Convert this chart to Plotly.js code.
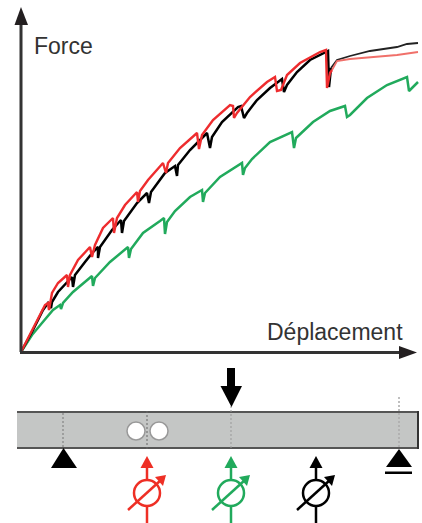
<!DOCTYPE html>
<html><head><meta charset="utf-8">
<script src="https://cdn.plot.ly/plotly-3.0.1.min.js"></script>
<style>html,body{margin:0;padding:0;background:#fff}#c{width:422px;height:523px}</style></head>
<body><div id="c"></div>
<script>
const redX=[0,11,24,27,28,31,37,46,47,49,57,69,71,74,82,92,93,96,104,116,117,119,127,142,145,147,159,176,178,181,192,209,212,213,216,229,246,254,256,260,266,279,299,305,306,309,311];
const redF=[0,22,47,49,42,59,69,77,65,77,92,105,95,107,124,134,119,134,147,160,150,161,172,189,179,189,204,219,203,217,232,247,246,234,239,255,270,275,261,262,277,289,300,302,264,279,282];
const redTailX=[311,316,329,349,376,397];
const redTailF=[282,291,293,295,297,300];
const blackX=[0,12,22,27,30,31,37,51,52,54,64,72,77,77,79,91,100,101,103,116,126,128,130,139,144,154,156,157,169,186,189,191,201,217,220,223,226,236,249,261,263,266,276,289,307,308,310];
const blackF=[0,22,42,49,44,50,60,75,65,77,90,100,105,94,105,122,132,119,131,149,159,149,160,172,179,186,176,187,202,219,204,215,230,245,246,234,239,252,264,273,260,267,280,292,301,265,284];
const blackTailX=[310,316,329,349,376,386,397];
const blackTailF=[284,292,296,301,305,308,309];
const greenX=[0,11,21,32,39,40,42,52,71,72,74,84,89,107,108,110,122,139,143,144,146,154,169,181,182,184,199,221,222,224,231,249,271,273,275,292,309,324,326,329,346,366,386,388,392,397];
const greenF=[0,17,29,42,47,43,49,60,76,66,74,85,90,105,94,103,119,131,134,118,130,141,155,162,150,159,175,189,177,184,193,210,220,204,214,230,241,246,235,237,254,267,275,261,265,270];
const yLabel="Force", xLabel="Déplacement";

const RED="#ee2c2e",BLACK="#000000",GREEN="#21aa5c",AX="#333333";
const W=422,H=523;
const px=x=>x/W, py=y=>1-y/H;
function path(pts,fill,line,w){
  return {type:"path",xref:"paper",yref:"paper",
    path:"M"+pts.map(p=>px(p[0])+","+py(p[1])).join("L")+(fill?"Z":""),
    fillcolor:fill||"rgba(0,0,0,0)",line:{color:line||fill,width:w===undefined?(line?1:0):w}};
}
function rect(x0,y0,x1,y1,fill,line,w){
  return {type:"rect",xref:"paper",yref:"paper",x0:px(x0),x1:px(x1),y0:py(y0),y1:py(y1),
    fillcolor:fill,line:{color:line||fill,width:w||0}};
}
function seg(x0,y0,x1,y1,c,w,dash){
  return {type:"line",xref:"paper",yref:"paper",x0:px(x0),x1:px(x1),y0:py(y0),y1:py(y1),
    line:{color:c,width:w,dash:dash||"solid"}};
}
function circ(cx,cy,r,fill,line,w){
  return {type:"circle",xref:"paper",yref:"paper",x0:px(cx-r),x1:px(cx+r),y0:py(cy-r),y1:py(cy+r),
    fillcolor:fill,line:{color:line,width:w}};
}
function gauge(x,c){
  const cy=493,r=13;
  return [
    seg(x,466,x,cy-r,c,2.5),
    seg(x,cy+r,x,523,c,2.5),
    path([[x,456],[x+6.5,468],[x-6.5,468]],c),
    circ(x,cy,r,"rgba(0,0,0,0)",c,2.5),
    seg(x-19,510,x+14,480,c,2.5),
    path([[x+19,475],[x+16,486],[x+8,477]],c)
  ];
}
const shapes=[
  seg(21,352,21,24,AX,3),
  path([[21,7],[28,25],[14.5,25]],"#231f20"),
  seg(20,352.5,399,352.5,AX,3),
  path([[417,352.5],[399,346],[399,359]],"#231f20"),
  rect(17,412,418,448,"#c4c6c5"),
  seg(17,412,418,412,"#555",2),
  seg(17,448,418,448,"#555",2),
  seg(418,411,418,449,"#333",2),
  seg(63,413,63,448,"#777",1,"2px,2px"),
  seg(147,411,147,449,"#666",1,"2px,2px"),
  seg(231,406,231,449,"#999",1,"2px,2px"),
  seg(399,397,399,449,"#aaa",1.5,"2px,2px"),
  circ(136,431,9,"#ffffff","#999",1.5),
  circ(159,431,9,"#ffffff","#999",1.5),
  path([[63.5,448],[77,468],[51,468]],"#000"),
  path([[399,449],[412,467],[386,467]],"#000"),
  rect(385,471.5,412,474,"#000"),
  rect(227,368,235,386,"#000"),
  path([[231.5,407],[242,386],[220.5,386]],"#000"),
  ...gauge(147,"#ee2f25"),
  ...gauge(231,GREEN),
  ...gauge(316,BLACK)
];
const line=(x,y,c,w)=>({x,y,mode:"lines",type:"scatter",hoverinfo:"skip",showlegend:false,
  line:{color:c,width:w,shape:"linear"}});
const data=[
  line(greenX,greenF,GREEN,2.5),
  line(blackTailX,blackTailF,"#222",1.8),
  line(blackX,blackF,BLACK,2.5),
  line(redTailX,redTailF,"#f0706a",1.8),
  line(redX,redF,RED,2.4)
];
const font={family:"Liberation Sans, Arial, sans-serif",size:23,color:"#333"};
const layout={
  width:W,height:H,margin:{l:0,r:0,t:0,b:0},paper_bgcolor:"#fff",plot_bgcolor:"rgba(0,0,0,0)",
  showlegend:false,
  xaxis:{range:[-21,401],visible:false,fixedrange:true},
  yaxis:{range:[-171,352],visible:false,fixedrange:true},
  shapes,
  annotations:[
    {xref:"paper",yref:"paper",x:px(32),y:py(46),text:yLabel,showarrow:false,xanchor:"left",yanchor:"middle",font},
    {xref:"paper",yref:"paper",x:px(264.5),y:py(332),text:xLabel,showarrow:false,xanchor:"left",yanchor:"middle",font}
  ]
};
Plotly.newPlot("c",data,layout,{staticPlot:true,displayModeBar:false});
</script></body></html>
